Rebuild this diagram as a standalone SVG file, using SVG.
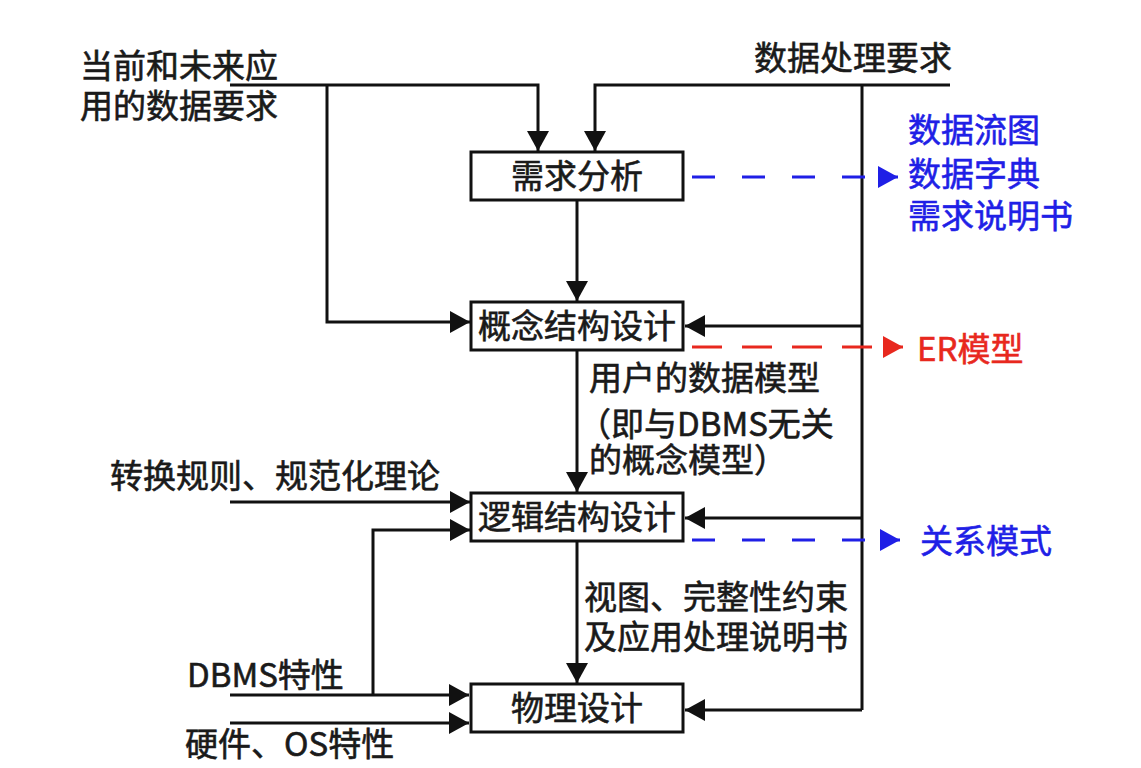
<svg xmlns="http://www.w3.org/2000/svg" width="1141" height="768" viewBox="0 0 1141 768">
  <style>
    text { font-family: "Noto Sans CJK SC", "Noto Sans", sans-serif; font-size: 33px; fill: #1a1a1a; stroke: #1a1a1a; stroke-width: 0.6; }
    .blue { fill: #1f1fe6; stroke: #1f1fe6; }
    .red { fill: #e8281e; stroke: #e8281e; }
    .box { fill: #ffffff; stroke: #111111; stroke-width: 3; }
    .ln { fill: none; stroke: #111111; stroke-width: 3; }
    .arr { fill: none; stroke: #111111; stroke-width: 3; marker-end: url(#ah); }
    .dblue { fill: none; stroke: #1f1fe6; stroke-width: 3; stroke-dasharray: 23 27; marker-end: url(#ahb); }
    .dred { fill: none; stroke: #e8281e; stroke-width: 3; stroke-dasharray: 30 20; marker-end: url(#ahr); }
  </style>
  <defs>
    <marker id="ah" viewBox="0 0 20 22" refX="20" refY="11" markerWidth="20" markerHeight="22" markerUnits="userSpaceOnUse" orient="auto">
      <path d="M0,0 L20,11 L0,22 z" fill="#111111"/>
    </marker>
    <marker id="ahb" viewBox="0 0 20 22" refX="20" refY="11" markerWidth="20" markerHeight="22" markerUnits="userSpaceOnUse" orient="auto">
      <path d="M0,0 L20,11 L0,22 z" fill="#1f1fe6"/>
    </marker>
    <marker id="ahr" viewBox="0 0 20 22" refX="20" refY="11" markerWidth="20" markerHeight="22" markerUnits="userSpaceOnUse" orient="auto">
      <path d="M0,0 L20,11 L0,22 z" fill="#e8281e"/>
    </marker>
  </defs>
  <rect width="1141" height="768" fill="#ffffff"/>

  <g id="connectors">
    <path class="arr" d="M230,85 L538,85 L538,151"/>
    <path class="arr" d="M327,85 L327,322 L470,322"/>
    <path class="arr" d="M950,85 L595,85 L595,151"/>
    <path class="ln" d="M862,85 L862,710"/>
    <path class="arr" d="M862,326 L685,326"/>
    <path class="arr" d="M862,518 L685,518"/>
    <path class="arr" d="M862,710 L685,710"/>
    <path class="arr" d="M577,200 L577,301"/>
    <path class="arr" d="M577,350 L577,492"/>
    <path class="arr" d="M577,541 L577,683"/>
    <path class="arr" d="M230,502 L470,502"/>
    <path class="arr" d="M373,695 L373,530 L470,530"/>
    <path class="arr" d="M230,695 L469,695"/>
    <path class="arr" d="M230,723 L469,723"/>
    <path class="dblue" d="M692,177 L898,177"/>
    <path class="dred" d="M692,347 L903,347"/>
    <path class="dblue" d="M692,540 L900,540"/>
  </g>

  <g id="node-xqfx">
    <rect class="box" x="471" y="152" width="212" height="48"/>
    <text x="577" y="188" text-anchor="middle">需求分析</text>
  </g>
  <g id="node-gnjg">
    <rect class="box" x="471" y="302" width="212" height="48"/>
    <text x="577" y="338" text-anchor="middle">概念结构设计</text>
  </g>
  <g id="node-ljjg">
    <rect class="box" x="471" y="493" width="212" height="48"/>
    <text x="577" y="529" text-anchor="middle">逻辑结构设计</text>
  </g>
  <g id="node-wlsj">
    <rect class="box" x="471" y="684" width="212" height="48"/>
    <text x="577" y="720" text-anchor="middle">物理设计</text>
  </g>

  <g id="labels">
    <text x="80" y="78">当前和未来应<tspan x="80" y="118">用的数据要求</tspan></text>
    <text x="754" y="70">数据处理要求</text>
    <text class="blue" x="908" y="142">数据流图<tspan x="908" y="186">数据字典</tspan><tspan x="908" y="228">需求说明书</tspan></text>
    <text class="red" x="917" y="361">ER模型</text>
    <text x="589" y="390">用户的数据模型<tspan x="578" y="436">（即与DBMS无关</tspan><tspan x="589" y="472">的概念模型）</tspan></text>
    <text x="110" y="488">转换规则、规范化理论</text>
    <text class="blue" x="920" y="553">关系模式</text>
    <text x="584" y="609">视图、完整性约束<tspan x="584" y="649">及应用处理说明书</tspan></text>
    <text x="187" y="687">DBMS特性</text>
    <text x="185" y="756">硬件、OS特性</text>
  </g>
</svg>
